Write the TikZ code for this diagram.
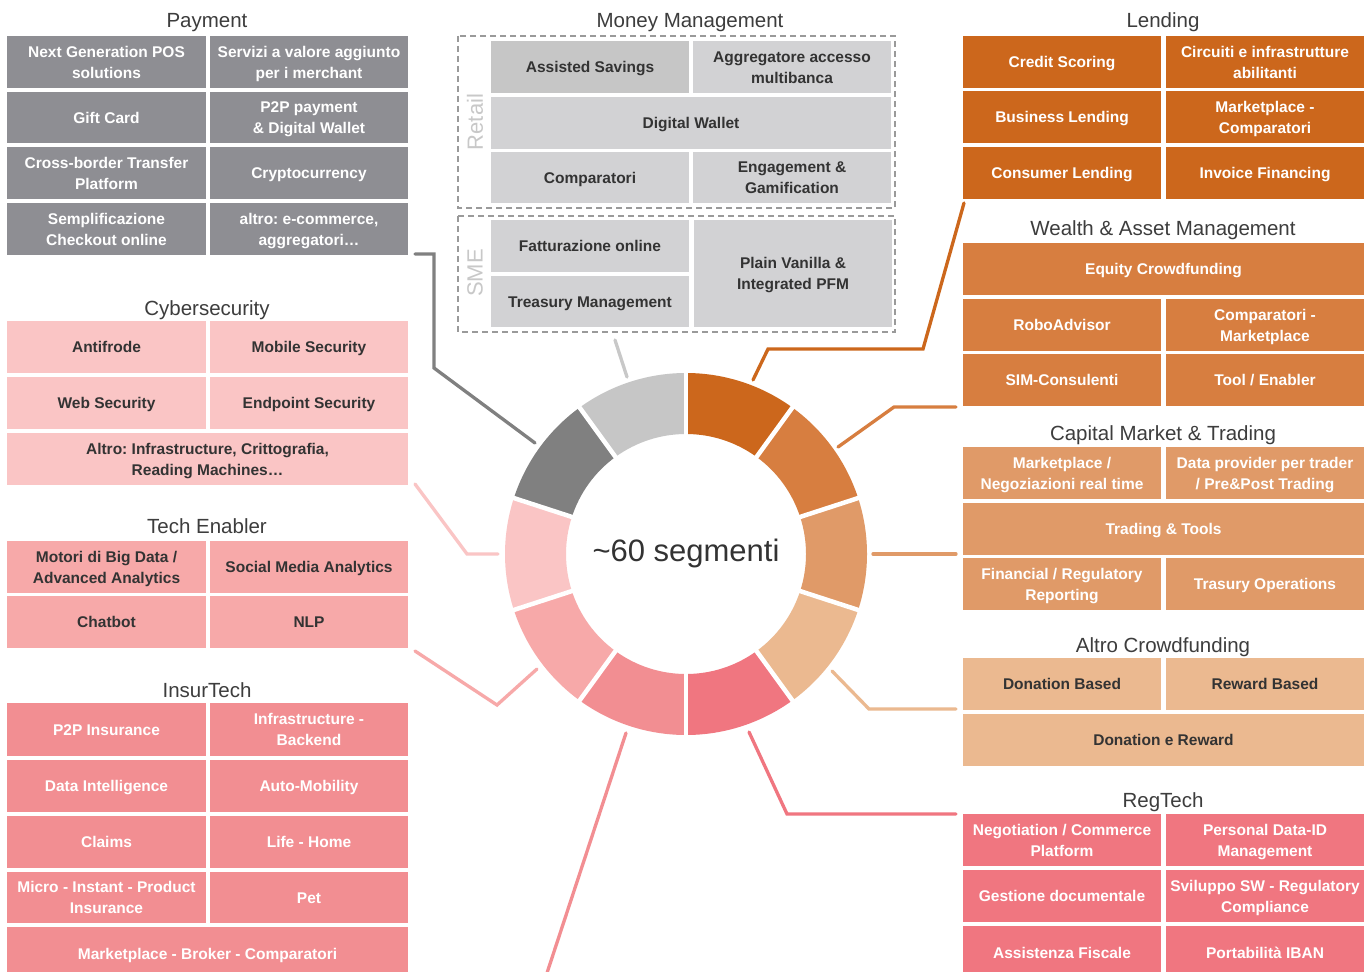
\documentclass[tikz,border=0pt]{standalone}
\usepackage{fontspec}
\setmainfont{Liberation Sans}
\frenchspacing

% palette
\definecolor{payfill}{HTML}{8E8E93}
\definecolor{payseg}{HTML}{808080}
\definecolor{mmfill}{HTML}{D2D2D4}
\definecolor{mmdark}{HTML}{C6C6C6}
\definecolor{mmline}{HTML}{C8C8C8}
\definecolor{lendc}{HTML}{CC671C}
\definecolor{wealthc}{HTML}{D77E40}
\definecolor{capc}{HTML}{E09A68}
\definecolor{crowdc}{HTML}{EBB990}
\definecolor{regc}{HTML}{F07680}
\definecolor{insc}{HTML}{F28E92}
\definecolor{techc}{HTML}{F7A9A9}
\definecolor{cybc}{HTML}{FAC5C5}
\definecolor{darktext}{HTML}{333333}
\definecolor{titletext}{HTML}{3D3D3D}
\definecolor{dashc}{HTML}{9A9A9A}
\definecolor{sidelabel}{HTML}{C8C8C8}

\tikzset{
  cellbase/.style={inner sep=0pt, outer sep=0pt,
    font=\fontsize{15.5}{21}\selectfont\bfseries},
  paybox/.style={cellbase, fill=payfill, text=white},
  mmbox/.style={cellbase, fill=mmfill, text=darktext},
  mmdarkbox/.style={cellbase, fill=mmdark, text=darktext},
  lendbox/.style={cellbase, fill=lendc, text=white},
  wealthbox/.style={cellbase, fill=wealthc, text=white},
  capbox/.style={cellbase, fill=capc, text=white},
  crowdbox/.style={cellbase, fill=crowdc, text=darktext},
  regbox/.style={cellbase, fill=regc, text=white},
  insbox/.style={cellbase, fill=insc, text=white},
  techbox/.style={cellbase, fill=techc, text=darktext},
  cybbox/.style={cellbase, fill=cybc, text=darktext},
  grouptitle/.style={anchor=base, inner sep=0pt, text=titletext,
    font=\fontsize{20.5}{24}\selectfont},
  sidetag/.style={rotate=90, inner sep=0pt, text=sidelabel,
    font=\fontsize{22}{24}\selectfont},
  dashframe/.style={draw=dashc, line width=1.3pt, dash pattern=on 6pt off 4pt},
  link/.style={line width=3.3pt, line cap=round},
}

% box given by its corners: style, name, x1, y1, x2, y2, text.
% Lines are set as equal-height rows, lowered a little so the
% capitals sit in the middle of the box.
\newcommand\segcell[7]{%
  \node[#1, minimum width={#5-#3}, minimum height={#6-#4}] (#2)
    at ({(#3+#5)/2},{(#4+#6)/2})
    {\raisebox{-1.6pt}[\height][\depth]{\begin{tabular}{@{}c@{}}#7\end{tabular}}};}

\begin{document}
\begin{tikzpicture}[x=1pt,y=-1pt]
\useasboundingbox (0,0) rectangle (1372,971);
\fill[white] (0,0) rectangle (1372,971);
\clip (0,0) rectangle (1372,971);

% ---------------- Payment ----------------
\node[grouptitle] (tPay) at (207,28) {Payment};
\segcell{paybox}{p1}{7}{36}{206}{88}{Next Generation POS\\solutions}
\segcell{paybox}{p2}{210}{36}{408}{88}{Servizi a valore aggiunto\\per i merchant}
\segcell{paybox}{p3}{7}{92}{206}{143}{Gift Card}
\segcell{paybox}{p4}{210}{92}{408}{143}{P2P payment\\\& Digital Wallet}
\segcell{paybox}{p5}{7}{147}{206}{199}{Cross-border Transfer\\Platform}
\segcell{paybox}{p6}{210}{147}{408}{199}{Cryptocurrency}
\segcell{paybox}{p7}{7}{203}{206}{255}{Semplificazione\\Checkout online}
\segcell{paybox}{p8}{210}{203}{408}{255}{altro: e-commerce,\\aggregatori…}

% ---------------- Cybersecurity ----------------
\node[grouptitle] (tCyb) at (207,315) {Cybersecurity};
\segcell{cybbox}{c1}{7}{321}{206}{373}{Antifrode}
\segcell{cybbox}{c2}{210}{321}{408}{373}{Mobile Security}
\segcell{cybbox}{c3}{7}{377}{206}{429}{Web Security}
\segcell{cybbox}{c4}{210}{377}{408}{429}{Endpoint Security}
\segcell{cybbox}{c5}{7}{433}{408}{485}{Altro: Infrastructure, Crittografia,\\Reading Machines…}

% ---------------- Tech Enabler ----------------
\node[grouptitle] (tTech) at (207,533) {Tech Enabler};
\segcell{techbox}{t1}{7}{541}{206}{593}{Motori di Big Data /\\Advanced Analytics}
\segcell{techbox}{t2}{210}{541}{408}{593}{Social Media Analytics}
\segcell{techbox}{t3}{7}{596}{206}{648}{Chatbot}
\segcell{techbox}{t4}{210}{596}{408}{648}{NLP}

% ---------------- InsurTech ----------------
\node[grouptitle] (tIns) at (207,697) {InsurTech};
\segcell{insbox}{i1}{7}{703}{206}{756}{P2P Insurance}
\segcell{insbox}{i2}{210}{703}{408}{756}{Infrastructure -\\Backend}
\segcell{insbox}{i3}{7}{760}{206}{812}{Data Intelligence}
\segcell{insbox}{i4}{210}{760}{408}{812}{Auto-Mobility}
\segcell{insbox}{i5}{7}{816}{206}{868}{Claims}
\segcell{insbox}{i6}{210}{816}{408}{868}{Life - Home}
\segcell{insbox}{i7}{7}{872}{206}{923}{Micro - Instant - Product\\Insurance}
\segcell{insbox}{i8}{210}{872}{408}{923}{Pet}
\segcell{insbox}{i9}{7}{927}{408}{981}{Marketplace - Broker - Comparatori}

% ---------------- Money Management ----------------
\node[grouptitle] (tMM) at (690,28) {Money Management};
\draw[dashframe] (458,36) rectangle (895,208);
\draw[dashframe] (458,216) rectangle (895,332);
\node[sidetag] (retail) at (475,122) {Retail};
\node[sidetag] (sme) at (475,273) {SME};
\segcell{mmdarkbox}{m1}{491}{41}{689}{93}{Assisted Savings}
\segcell{mmbox}{m2}{693}{41}{891}{93}{Aggregatore accesso\\multibanca}
\segcell{mmbox}{m3}{491}{97}{891}{149}{Digital Wallet}
\segcell{mmbox}{m4}{491}{152}{689}{203}{Comparatori}
\segcell{mmbox}{m5}{693}{152}{891}{203}{Engagement \&\\Gamification}
\segcell{mmbox}{m6}{491}{220}{689}{272}{Fatturazione online}
\segcell{mmbox}{m7}{491}{276}{689}{327}{Treasury Management}
\segcell{mmbox}{m8}{694}{220}{892}{327}{Plain Vanilla \&\\Integrated PFM}

% ---------------- Lending ----------------
\node[grouptitle] (tLend) at (1163,28) {Lending};
\segcell{lendbox}{l1}{963}{36}{1161}{88}{Credit Scoring}
\segcell{lendbox}{l2}{1166}{36}{1364}{88}{Circuiti e infrastrutture\\abilitanti}
\segcell{lendbox}{l3}{963}{91}{1161}{143}{Business Lending}
\segcell{lendbox}{l4}{1166}{91}{1364}{143}{Marketplace -\\Comparatori}
\segcell{lendbox}{l5}{963}{147}{1161}{199}{Consumer Lending}
\segcell{lendbox}{l6}{1166}{147}{1364}{199}{Invoice Financing}

% ---------------- Wealth & Asset Management ----------------
\node[grouptitle] (tWealth) at (1163,235) {Wealth \& Asset Management};
\segcell{wealthbox}{w1}{963}{243}{1364}{295}{Equity Crowdfunding}
\segcell{wealthbox}{w2}{963}{299}{1161}{351}{RoboAdvisor}
\segcell{wealthbox}{w3}{1166}{299}{1364}{351}{Comparatori -\\Marketplace}
\segcell{wealthbox}{w4}{963}{354}{1161}{406}{SIM-Consulenti}
\segcell{wealthbox}{w5}{1166}{354}{1364}{406}{Tool / Enabler}

% ---------------- Capital Market & Trading ----------------
\node[grouptitle] (tCap) at (1163,440) {Capital Market \& Trading};
\segcell{capbox}{k1}{963}{447}{1161}{499}{Marketplace /\\Negoziazioni real time}
\segcell{capbox}{k2}{1166}{447}{1364}{499}{Data provider per trader\\/ Pre\&Post Trading}
\segcell{capbox}{k3}{963}{503}{1364}{555}{Trading \& Tools}
\segcell{capbox}{k4}{963}{558}{1161}{610}{Financial / Regulatory\\Reporting}
\segcell{capbox}{k5}{1166}{558}{1364}{610}{Trasury Operations}

% ---------------- Altro Crowdfunding ----------------
\node[grouptitle] (tCrowd) at (1163,652) {Altro Crowdfunding};
\segcell{crowdbox}{a1}{963}{658}{1161}{710}{Donation Based}
\segcell{crowdbox}{a2}{1166}{658}{1364}{710}{Reward Based}
\segcell{crowdbox}{a3}{963}{714}{1364}{766}{Donation e Reward}

% ---------------- RegTech ----------------
\node[grouptitle] (tReg) at (1163,807) {RegTech};
\segcell{regbox}{r1}{963}{814}{1161}{866}{Negotiation / Commerce\\Platform}
\segcell{regbox}{r2}{1166}{814}{1364}{866}{Personal Data-ID\\Management}
\segcell{regbox}{r3}{963}{870}{1161}{922}{Gestione documentale}
\segcell{regbox}{r4}{1166}{870}{1364}{922}{Sviluppo SW - Regulatory\\Compliance}
\segcell{regbox}{r5}{963}{926}{1161}{980}{Assistenza Fiscale}
\segcell{regbox}{r6}{1166}{926}{1364}{980}{Portabilità IBAN}

% ---------------- ring of segments ----------------
\begin{scope}[shift={(686,554)}, yscale=-1]
  \foreach \a/\b/\c in {90/54/lendc, 54/18/wealthc, 18/-18/capc,
      -18/-54/crowdc, -54/-90/regc, -90/-126/insc, -126/-162/techc,
      -162/-198/cybc, 162/126/payseg, 126/90/mmdark}{
    \fill[\c] (\a:181) arc[start angle=\a, end angle=\b, radius=181]
      -- (\b:120) arc[start angle=\b, end angle=\a, radius=120] -- cycle;
  }
  \foreach \a in {90,54,18,-18,-54,-90,-126,-162,162,126}{
    \draw[white, line width=4.5pt] (\a:112) -- (\a:190);
  }
\end{scope}
\node[inner sep=0pt, text=darktext, font=\fontsize{31}{34}\selectfont]
  (hub) at (686,553) {\textasciitilde 60 segmenti};

% ---------------- connectors ----------------
\coordinate (ringPay) at (535,443);
\coordinate (ringMM) at (627,377);
\coordinate (ringLend) at (753,380);
\coordinate (ringWealth) at (838,447);
\coordinate (ringCap) at (873,554);
\coordinate (ringCrowd) at (832,671);
\coordinate (ringReg) at (749,732);
\coordinate (ringIns) at (626,733);
\coordinate (ringTech) at (537,669);
\coordinate (ringCyb) at (498,554);

\coordinate (endPay) at (415,254);
\coordinate (endMM) at (615,340);
\coordinate (endLend) at (964,203);
\coordinate (endWealth) at (956,407);
\coordinate (endCap) at (956,554);
\coordinate (endCrowd) at (956,709);
\coordinate (endReg) at (956,814);
\coordinate (endIns) at (546,976);
\coordinate (endTech) at (415,651);
\coordinate (endCyb) at (415,484);

\draw[link, payseg] (endPay) -- (434,254) -- (434,368) -- (ringPay);
\draw[link, mmline] (endMM) -- (ringMM);
\draw[link, lendc] (ringLend) -- (768,349) -- (923,349) -- (endLend);
\draw[link, wealthc] (ringWealth) -- (894,407) -- (endWealth);
\draw[link, capc] (ringCap) -- (endCap);
\draw[link, crowdc] (ringCrowd) -- (869,709) -- (endCrowd);
\draw[link, regc] (ringReg) -- (787,814) -- (endReg);
\draw[link, insc] (ringIns) -- (endIns);
\draw[link, techc] (ringTech) -- (497,705) -- (endTech);
\draw[link, cybc] (ringCyb) -- (467,554) -- (endCyb);
\end{tikzpicture}
\end{document}
